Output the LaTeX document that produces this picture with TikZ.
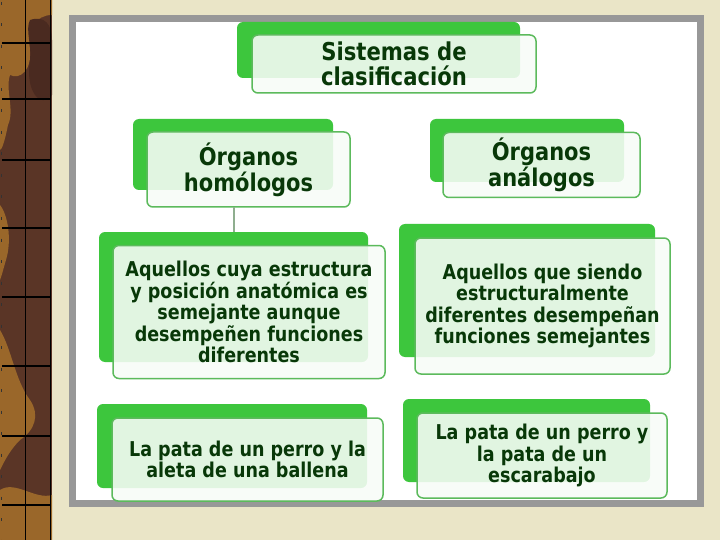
\documentclass[tikz,border=0pt]{standalone}
\usepackage{fontspec}
\newfontfamily\boxfont{DejaVu Sans}[FakeStretch=0.86]
\usetikzlibrary{calc}
\definecolor{cream}{HTML}{EAE5C7}
\definecolor{stripbrown}{HTML}{5A3526}
\definecolor{stripdark}{HTML}{4A2A20}
\definecolor{striplight}{HTML}{9A672A}
\definecolor{framegrey}{HTML}{989898}
\definecolor{backgreen}{HTML}{3DC63D}
\definecolor{frontborder}{HTML}{5CBA5C}
\definecolor{frontfill}{HTML}{F8FCF8}
\definecolor{txtgreen}{HTML}{083808}
\definecolor{connline}{HTML}{8FAE8F}
\tikzset{
  backbox/.style={rectangle, fill=backgreen, rounded corners=6pt, inner sep=0pt, outer sep=0pt},
  frontbox/.style={rectangle, fill=frontfill, fill opacity=0.88, text opacity=1,
    draw=frontborder, line width=1.5pt, rounded corners=6pt, inner sep=0pt, outer sep=0pt,
    align=center, text=txtgreen},
  bigtxt/.style={font=\boxfont\bfseries\fontsize{24.6}{25}\selectfont},
  midtxt/.style={font=\boxfont\bfseries\fontsize{24.4}{23.5}\selectfont},
  smalltxt/.style={font=\boxfont\bfseries\fontsize{20.4}{21.6}\selectfont},
  connector/.style={draw=connline, line width=1.5pt},
  gridline/.style={draw=black, line width=1.2pt}
}
\begin{document}
\begin{tikzpicture}[x=1pt,y=-1pt]
\useasboundingbox (0,0) rectangle (720,540);
% background
\fill[cream] (0,0) rectangle (720,540);
% left textured strip
\fill[stripbrown] (0,0) rectangle (52,540);
\fill[striplight] (0,0) -- (52,0) -- (52,15) .. controls (35,15) and (28,30) .. (30,50) .. controls (32,70) and (20,80) .. (10,75) .. controls (5,90) and (15,110) .. (8,125) .. controls (5,140) and (2,150) .. (0,150) -- cycle;
\fill[striplight] (0,205) .. controls (8,215) and (12,240) .. (6,260) .. controls (3,270) and (2,275) .. (0,280) -- cycle;
\fill[striplight] (0,330) .. controls (12,350) and (15,380) .. (30,400) .. controls (40,415) and (35,430) .. (20,440) .. controls (10,450) and (5,460) .. (0,470) -- cycle;
\fill[striplight] (0,490) .. controls (15,480) and (35,500) .. (52,495) -- (52,540) -- (0,540) -- cycle;
\fill[stripdark] (30,20) .. controls (45,15) and (52,25) .. (52,40) -- (52,95) .. controls (40,110) and (25,90) .. (30,60) .. controls (32,45) and (25,30) .. (30,20);
\draw[gridline] (25.7,0) -- (25.7,540);
\draw[gridline] (50.5,0) -- (50.5,540);
\draw[draw=black!80, line width=1pt, dash pattern=on 3pt off 18.5pt] (1.5,2) -- (1.5,540);
\foreach \yy in {43,99,160,228,297,366,436,505}{
  \draw[gridline] (2,\yy) -- (50.5,\yy);
}
% frame and white panel
\fill[framegrey] (69,15) rectangle (704,507);
\fill[white] (76,22) rectangle (697,500);
% back boxes
\node[backbox, minimum width=283pt, minimum height=56pt] (titleback) at (378.5,50) {};
\node[backbox, minimum width=200pt, minimum height=71pt] (homoback) at (233,154.5) {};
\node[backbox, minimum width=194pt, minimum height=63pt] (anaback) at (527,150.5) {};
\node[backbox, minimum width=269pt, minimum height=130pt] (descLback) at (233.5,297) {};
\node[backbox, minimum width=256pt, minimum height=133pt] (descRback) at (527,290.5) {};
\node[backbox, minimum width=270pt, minimum height=84pt] (exLback) at (232,446) {};
\node[backbox, minimum width=247pt, minimum height=83pt] (exRback) at (526.5,440.5) {};
% front boxes
\node[frontbox, bigtxt, minimum width=284pt, minimum height=58pt] (title) at (394,64) {Sistemas de\\clasificación};
\node[frontbox, midtxt, minimum width=203pt, minimum height=75pt] (homo) at (248.5,169.5) {Órganos\\homólogos};
\node[frontbox, midtxt, minimum width=197pt, minimum height=65pt] (ana) at (541.5,165) {Órganos\\análogos};
\node[frontbox, smalltxt, minimum width=272pt, minimum height=133pt] (descL) at (249,312) {Aquellos cuya estructura\\y posición anatómica es\\semejante aunque\\desempeñen funciones\\diferentes};
\node[frontbox, smalltxt, minimum width=255pt, minimum height=136pt] (descR) at (542.5,306) {Aquellos que siendo\\estructuralmente\\diferentes desempeñan\\funciones semejantes};
\node[frontbox, smalltxt, minimum width=271pt, minimum height=83pt] (exL) at (247.5,459.5) {La pata de un perro y la\\aleta de una ballena};
\node[frontbox, smalltxt, minimum width=250pt, minimum height=85pt] (exR) at (542,455.5) {La pata de un perro y\\la pata de un\\escarabajo};
% connector
\coordinate (cx) at (234,0);
\draw[connector] (homo.south -| cx) -- (descLback.north -| cx);
\end{tikzpicture}
\end{document}
